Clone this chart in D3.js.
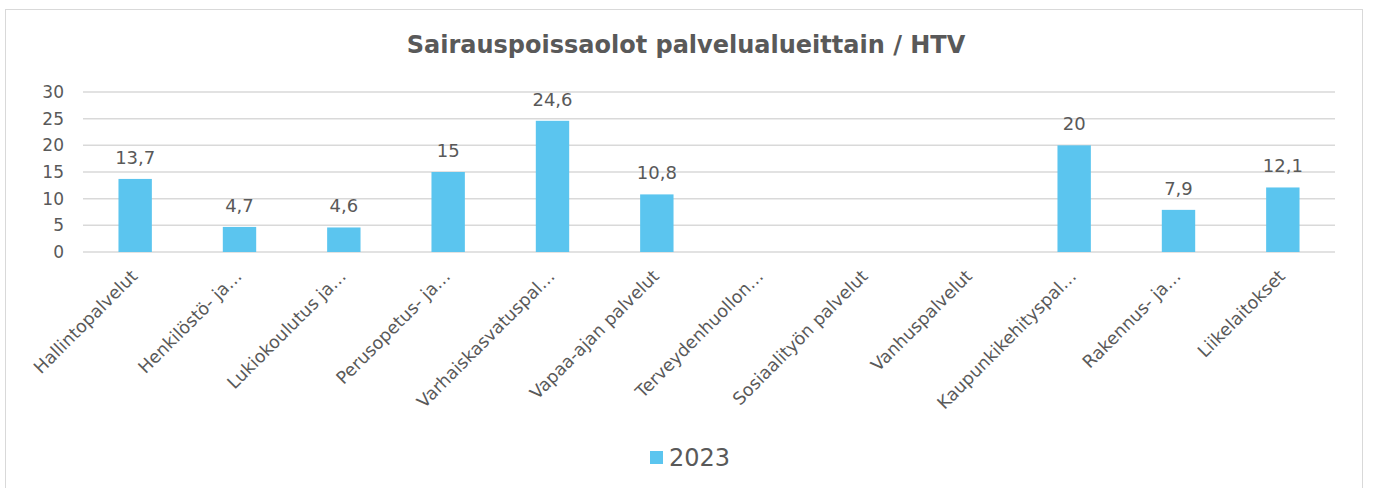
<!DOCTYPE html>
<html>
<head>
<meta charset="utf-8">
<script src="https://cdn.jsdelivr.net/npm/d3@7"></script>
<style>
  body { margin: 0; background: #fff; }
  text { font-family: "DejaVu Sans", Verdana, sans-serif; fill: #595959; }
</style>
</head>
<body>
<div id="chart"></div>
<script>
const categories = [
  "Hallintopalvelut", "Henkilöstö- ja…", "Lukiokoulutus ja…", "Perusopetus- ja…",
  "Varhaiskasvatuspal…", "Vapaa-ajan palvelut", "Terveydenhuollon…", "Sosiaalityön palvelut",
  "Vanhuspalvelut", "Kaupunkikehityspal…", "Rakennus- ja…", "Liikelaitokset"
];
const values2023 = [13.7, 4.7, 4.6, 15, 24.6, 10.8, null, null, null, 20, 7.9, 12.1];
const yTicks = [0, 5, 10, 15, 20, 25, 30];
const seriesName = "2023";
const title = "Sairauspoissaolot palvelualueittain / HTV";

const W = 1373, H = 488;
const margin = { left: 83, right: 38, top: 92, bottom: 236 };
const color = "#5bc5ef";

const svg = d3.select("#chart").append("svg")
  .attr("width", W).attr("height", H);

// chart frame
svg.append("rect")
  .attr("x", 5.5).attr("y", 9.5)
  .attr("width", 1357).attr("height", 500)
  .attr("fill", "#fff").attr("stroke", "#d9d9d9");

svg.append("text")
  .attr("x", 686).attr("y", 53)
  .attr("text-anchor", "middle")
  .attr("font-size", 24).attr("font-weight", "bold")
  .text(title);

const x = d3.scaleBand()
  .domain(categories)
  .range([margin.left, W - margin.right])
  .paddingInner(0.68).paddingOuter(0.34);

const y = d3.scaleLinear()
  .domain([0, 30])
  .range([H - margin.bottom, margin.top]);

// gridlines
svg.append("g")
  .selectAll("line")
  .data(yTicks)
  .join("line")
  .attr("x1", margin.left).attr("x2", W - margin.right)
  .attr("y1", d => y(d)).attr("y2", d => y(d))
  .attr("stroke", "#d9d9d9").attr("stroke-width", 1.5);

// y tick labels
svg.append("g")
  .selectAll("text")
  .data(yTicks)
  .join("text")
  .attr("x", 64).attr("y", d => y(d))
  .attr("dy", "0.35em")
  .attr("text-anchor", "end")
  .attr("font-size", 17)
  .text(d => d);

const data = categories.map((c, i) => ({ c, v: values2023[i] }));
const bars = data.filter(d => d.v != null);

svg.append("g")
  .selectAll("rect")
  .data(bars)
  .join("rect")
  .attr("x", d => x(d.c))
  .attr("width", x.bandwidth())
  .attr("y", d => y(d.v))
  .attr("height", d => y(0) - y(d.v))
  .attr("fill", color);

// data labels
svg.append("g")
  .selectAll("text")
  .data(bars)
  .join("text")
  .attr("x", d => x(d.c) + x.bandwidth() / 2)
  .attr("y", d => y(d.v) - 15)
  .attr("text-anchor", "middle")
  .attr("font-size", 18)
  .text(d => String(d.v).replace(".", ","));

// category labels
svg.append("g")
  .selectAll("text")
  .data(categories)
  .join("text")
  .attr("transform", d => `translate(${x(d) + x.bandwidth() / 2 - 1},${y(0) + 21}) rotate(-45)`)
  .attr("text-anchor", "end")
  .attr("dy", "0.35em")
  .attr("font-size", 17.5)
  .text(d => d);

// legend
const lg = svg.append("g").attr("transform", "translate(650,451)");
lg.append("rect").attr("width", 13).attr("height", 13).attr("fill", color);
lg.append("text").attr("x", 19).attr("y", 6.5).attr("dy", "0.35em")
  .attr("font-size", 24).text(seriesName);
</script>
</body>
</html>
